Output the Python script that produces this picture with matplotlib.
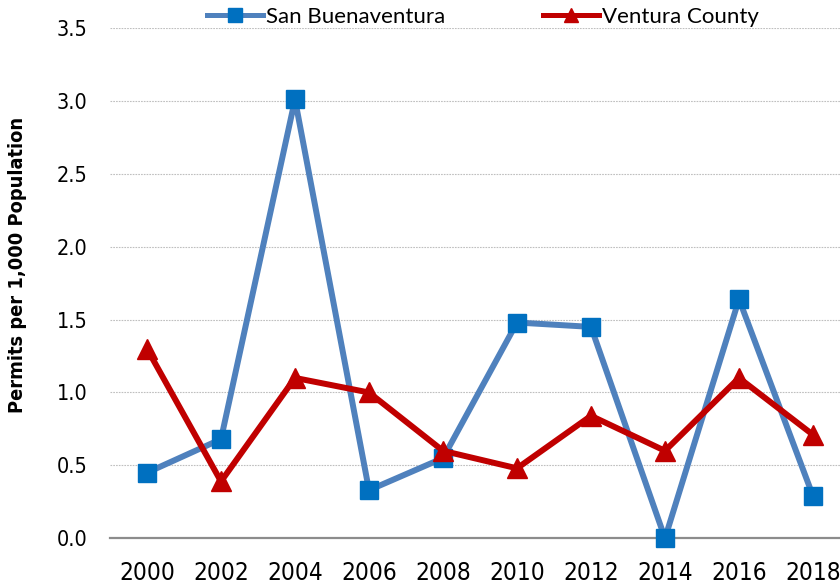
import matplotlib
matplotlib.use("Agg")
import matplotlib.pyplot as plt
from matplotlib import font_manager
from matplotlib.font_manager import FontProperties

years = [2000, 2002, 2004, 2006, 2008, 2010, 2012, 2014, 2016, 2018]
san_buenaventura = [0.45, 0.68, 3.01, 0.33, 0.55, 1.48, 1.45, 0.00, 1.64, 0.29]
ventura_county = [1.30, 0.39, 1.10, 1.00, 0.60, 0.48, 0.84, 0.60, 1.10, 0.71]
yticks = [0.0, 0.5, 1.0, 1.5, 2.0, 2.5, 3.0, 3.5]
series_names = ["San Buenaventura", "Ventura County"]
ylabel = "Permits per 1,000 Population"


def find_narrow(bold=False):
    cands = []
    for f in font_manager.fontManager.ttflist:
        nm = (f.name + " " + f.fname).lower()
        if ("narrow" in nm or "condensed" in nm or f.stretch == "condensed") and f.style == "normal":
            isbold = f.weight in ("bold", 700) or (isinstance(f.weight, int) and f.weight >= 600)
            if isbold == bold:
                pri = 0 if "liberation" in nm else (1 if "dejavu" in nm else 2)
                cands.append((pri, f.fname))
    if cands:
        cands.sort()
        return cands[0][1]
    return None


nfile = find_narrow(False)
bfile = find_narrow(True)
if nfile:
    tick_prop_y = FontProperties(fname=nfile, size=15.5)
    tick_prop_x = FontProperties(fname=nfile, size=17.5)
else:
    tick_prop_y = FontProperties(family="Liberation Sans", size=15)
    tick_prop_x = FontProperties(family="Liberation Sans", size=16)
if bfile:
    lab_prop = FontProperties(fname=bfile, size=14.3)
else:
    lab_prop = FontProperties(family="Liberation Sans", weight="bold", size=14.5)

fig = plt.figure(figsize=(8.4, 5.85), dpi=100)
ax = fig.add_axes([110/840, (585-538.3)/585, 740/840, 510.3/585])

ax.plot(years, san_buenaventura, color="#4F81BD", lw=4.3, marker="s", ms=13.5,
        mfc="#0070C0", mec="#0070C0", label=series_names[0], clip_on=False, zorder=3)
ax.plot(years, ventura_county, color="#C00000", lw=4.3, marker="^", ms=14,
        mfc="#C00000", mec="#C00000", label=series_names[1], clip_on=False, zorder=4)

ax.set_xlim(1999, 2019)
ax.set_ylim(0, 3.5)
ax.set_xticks(years)
ax.set_yticks(yticks)
ax.set_yticklabels([f"{v:.1f}" for v in yticks])
ax.grid(axis="y", color="#BFBFBF", linestyle=(0, (1.5, 1)), linewidth=0.8)
ax.set_axisbelow(True)
for s in ["top", "right", "left"]:
    ax.spines[s].set_visible(False)
ax.spines["bottom"].set_color("#8C8C8C")
ax.spines["bottom"].set_linewidth(1.6)
ax.tick_params(axis="both", length=0)
ax.tick_params(axis="y", pad=16)
ax.tick_params(axis="x", pad=16)
for lab in ax.get_xticklabels():
    lab.set_fontproperties(tick_prop_x)
for lab in ax.get_yticklabels():
    lab.set_fontproperties(tick_prop_y)

fig.text(18/840, 1 - 265/585, ylabel, rotation=90, ha="center", va="center",
         fontproperties=lab_prop)

leg = ax.legend(loc="center", bbox_to_anchor=(483/840, 1 - 17/585), bbox_transform=fig.transFigure,
                ncol=2, frameon=False, handlelength=2.5, handletextpad=0.15,
                columnspacing=4.4, markerscale=0.75, borderpad=0, borderaxespad=0,
                prop={"family": ["Lato", "DejaVu Sans"], "size": 16})
for line in leg.get_lines():
    line.set_linewidth(3.6)
fig.savefig("out.png", dpi=100)
